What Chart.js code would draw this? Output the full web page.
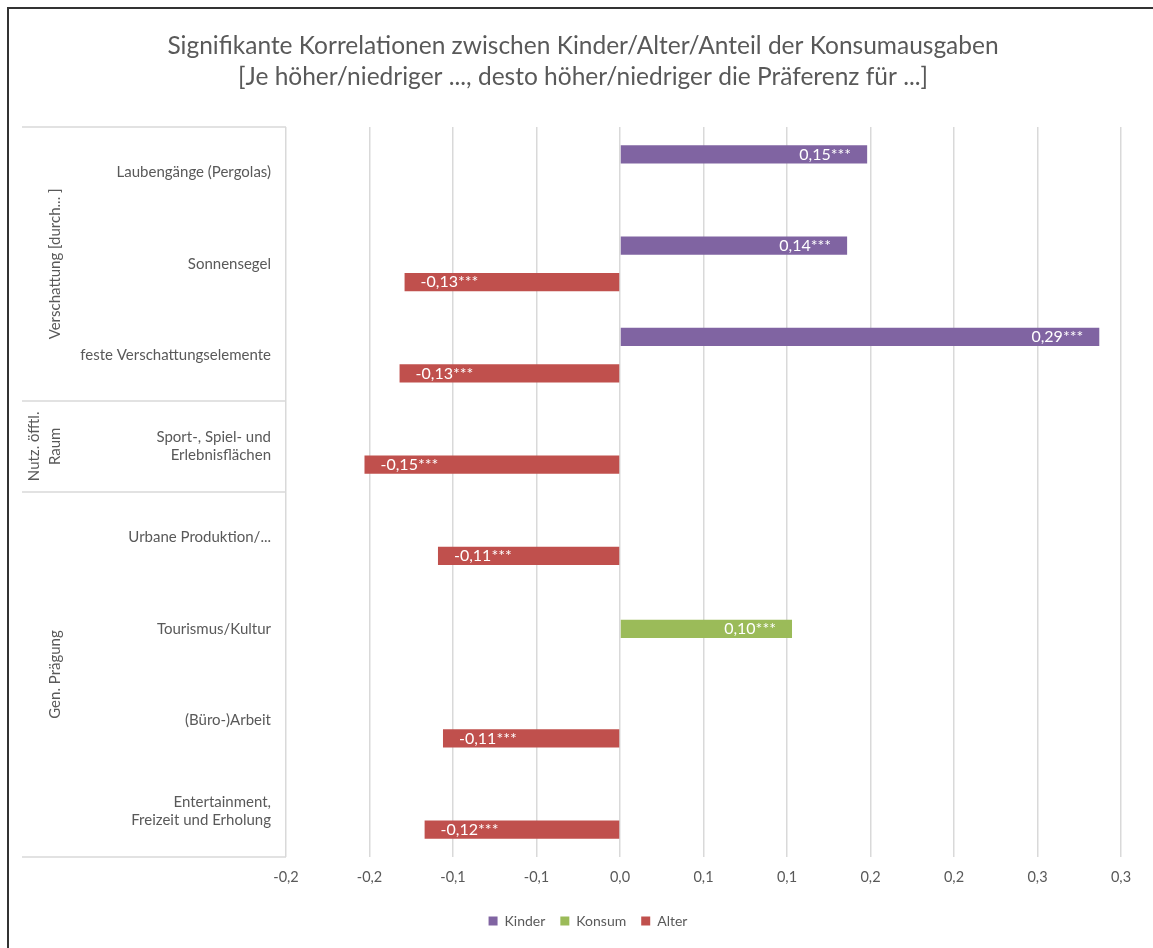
<!DOCTYPE html>
<html><head><meta charset="utf-8">
<script src="https://cdn.jsdelivr.net/npm/chart.js@4"></script>
<style>html,body{margin:0;padding:0;background:#fff;overflow:hidden}
#wrap{position:relative;width:1153px;height:948px}
canvas{display:block}
</style></head><body><div id="wrap"><canvas id="c" width="1153" height="948"></canvas></div>
<script>
const titleLines = ['Signifikante Korrelationen zwischen Kinder/Alter/Anteil der Konsumausgaben',
  '[Je höher/niedriger ..., desto höher/niedriger die Präferenz für ...]'];
const categories = [['Laubengänge (Pergolas)'], ['Sonnensegel'], ['feste Verschattungselemente'],
  ['Sport-, Spiel- und','Erlebnisflächen'], ['Urbane Produktion/...'], ['Tourismus/Kultur'],
  ['(Büro-)Arbeit'], ['Entertainment,','Freizeit und Erholung']];
const groupLabels = [['Verschattung [durch... ]'], ['Nutz. öfftl.','Raum'], ['Gen. Prägung']];
const groupSizes = [3, 1, 4];
const seriesNames = ['Kinder', 'Konsum', 'Alter'];
const kinder = [0.148, 0.136, 0.287, null, null, null, null, null];
const konsum = [null, null, null, null, null, 0.103, null, null];
const alter  = [null, -0.129, -0.132, -0.153, -0.109, null, -0.106, -0.117];
const significance = '***';
const xTicks = [-0.2, -0.15, -0.1, -0.05, 0, 0.05, 0.1, 0.15, 0.2, 0.25, 0.3];
const xTickLabels = ['-0,2','-0,2','-0,1','-0,1','0,0','0,1','0,1','0,2','0,2','0,3','0,3'];

const FONT = 'Lato';
const TXT = '#595959';
const GRID = '#d9d9d9';

const frame = {
  id: 'frame',
  beforeDraw(chart) {
    const ctx = chart.ctx;
    ctx.save();
    ctx.fillStyle = '#fff';
    ctx.fillRect(0, 0, chart.width, chart.height);
    ctx.fillStyle = '#333';
    ctx.fillRect(7, 7, 2, chart.height);
    ctx.fillRect(7, 7, chart.width, 2);
    ctx.restore();
  }
};

const legendShift = {
  id: 'legendShift',
  afterLayout(chart) {
    if (chart.legend) { chart.legend.left += 5; chart.legend.right += 5; }
  }
};

const groupAxis = {
  id: 'groupAxis',
  afterDraw(chart) {
    const y = chart.scales.y, ctx = chart.ctx;
    const n = categories.length;
    const step = (y.bottom - y.top) / n;
    const left = 22, right = chart.chartArea.left;
    ctx.save();
    ctx.strokeStyle = GRID;
    ctx.lineWidth = 1.5;
    const bounds = [y.top];
    let acc = 0;
    groupSizes.forEach(s => { acc += s; bounds.push(y.top + acc * step); });
    bounds.forEach(b => {
      const yy = Math.round(b);
      ctx.beginPath(); ctx.moveTo(left, yy); ctx.lineTo(right, yy); ctx.stroke();
    });
    ctx.fillStyle = TXT;
    ctx.font = '15px ' + FONT;
    ctx.textAlign = 'center';
    ctx.textBaseline = 'middle';
    groupLabels.forEach((lines, g) => {
      const cy = (bounds[g] + bounds[g + 1]) / 2;
      lines.forEach((line, j) => {
        const x = 55 - (lines.length - 1 - j) * 21;
        ctx.save();
        ctx.translate(x, cy);
        ctx.rotate(-Math.PI / 2);
        ctx.fillText(line, 0, 0);
        ctx.restore();
      });
    });
    ctx.restore();
  }
};

const barLabels = {
  id: 'barLabels',
  afterDatasetsDraw(chart) {
    const ctx = chart.ctx;
    ctx.save();
    ctx.font = '16px ' + FONT;
    ctx.fillStyle = '#fff';
    ctx.textBaseline = 'middle';
    chart.data.datasets.forEach((ds, di) => {
      const meta = chart.getDatasetMeta(di);
      meta.data.forEach((bar, i) => {
        const v = ds.data[i];
        if (v === null || v === undefined) return;
        const txt = v.toFixed(2).replace('.', ',') + significance;
        if (v >= 0) { ctx.textAlign = 'right'; ctx.fillText(txt, bar.x - 16, bar.y); }
        else { ctx.textAlign = 'left'; ctx.fillText(txt, bar.x + 16, bar.y); }
      });
    });
    ctx.restore();
  }
};

function draw() {
  Chart.defaults.font.family = FONT;
  Chart.defaults.color = TXT;
  new Chart(document.getElementById('c'), {
    type: 'bar',
    data: {
      labels: categories,
      datasets: [
        { label: seriesNames[0], data: kinder, backgroundColor: '#8064A2' },
        { label: seriesNames[1], data: konsum, backgroundColor: '#9BBB59' },
        { label: seriesNames[2], data: alter, backgroundColor: '#C0504D' }
      ]
    },
    options: {
      indexAxis: 'y',
      responsive: false,
      animation: false,
      datasets: { bar: { categoryPercentage: 0.6, barPercentage: 1.0 } },
      layout: { padding: { left: 45, right: 32, top: 0, bottom: 10 } },
      scales: {
        x: {
          type: 'linear', min: -0.2, max: 0.3,
          afterBuildTicks(scale) { scale.ticks = xTicks.map(v => ({ value: v })); },
          afterFit(scale) { scale.height = 42; },
          grid: { color: GRID, lineWidth: 1.5, drawTicks: false },
          border: { display: false },
          ticks: {
            padding: 12, color: TXT, font: { size: 14.5 },
            callback: (v, i) => xTickLabels[i]
          }
        },
        y: {
          afterFit(scale) { scale.width = 241; },
          grid: { display: false, drawTicks: false },
          border: { display: false },
          ticks: { padding: 15, color: TXT, font: { size: 15, lineHeight: 1.2 } }
        }
      },
      plugins: {
        title: {
          display: true, text: titleLines, color: TXT,
          font: { size: 24.5, weight: 'normal', lineHeight: 1.265 },
          padding: { top: 31, bottom: 34 }
        },
        legend: {
          position: 'bottom',
          labels: { boxWidth: 9, boxHeight: 9, padding: 15, color: TXT, font: { size: 14 } }
        },
        tooltip: { enabled: false }
      }
    },
    plugins: [frame, legendShift, groupAxis, barLabels]
  });
}
if (document.fonts && document.fonts.load) {
  Promise.all([document.fonts.load('14px Lato'), document.fonts.load('24px Lato')]).then(draw, draw);
} else { draw(); }
</script></body></html>
